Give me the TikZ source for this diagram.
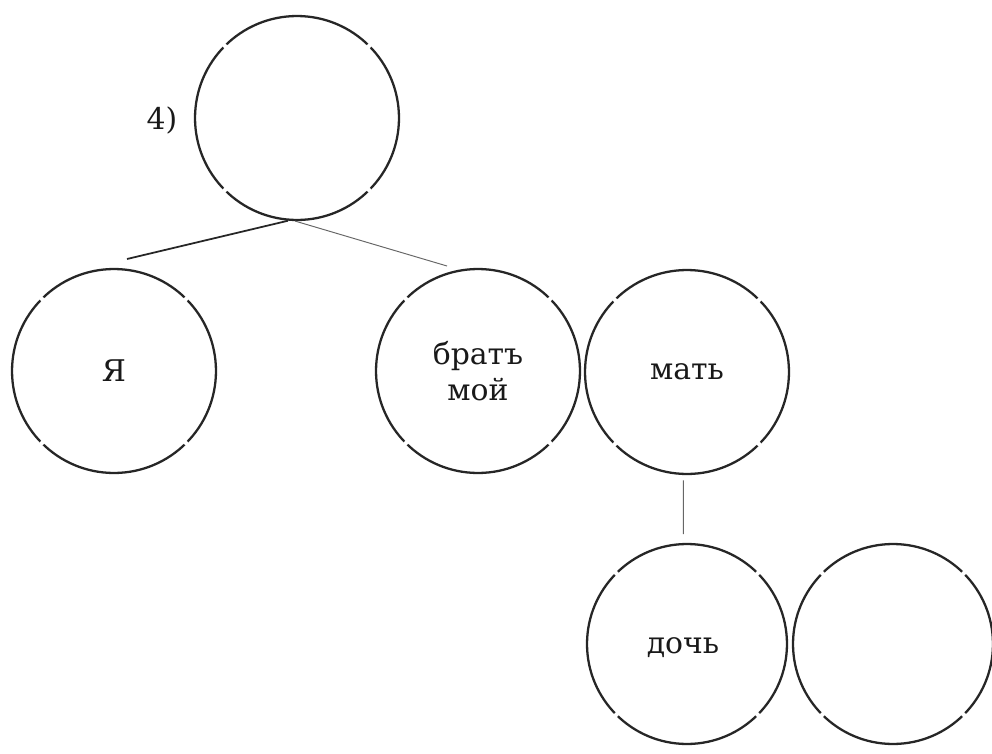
\documentclass[tikz,border=0pt]{standalone}
\usepackage{fontspec}
\setmainfont{DejaVu Serif}
\begin{document}
\begin{tikzpicture}[x=0.02cm,y=-0.02cm,
  txt/.style={font=\fontsize{17}{20.4}\selectfont, align=center, text=black!90},
  circA/.style={circle, draw=black!85, line width=1.3pt, inner sep=0pt,
    minimum size=4.08cm, dash pattern=on 88.67pt off 2.5pt, dash phase=44.34pt, txt},
  circB/.style={circA, minimum size=4cm, dash pattern=on 86.89pt off 2.5pt, dash phase=43.44pt},
  connA/.style={draw=black!85, line width=1pt},
  connB/.style={draw=black!60, line width=0.55pt}
]
\useasboundingbox (0,0) rectangle (992,754);
\node[circA] (top) at (297,118) {};
\node[txt] (lbl) at (162,120) {4)};
\node[circA] (ja) at (114,371) {Я};
\node[circA] (brat) at (478,371) {братъ\\мой};
\node[circA] (mat) at (687,372) {мать};
\node[circB] (doch) at (687,644) {};
\node[txt] (dochtxt) at (683,648) {дочь};
\node[circB] (empty) at (893,644) {};
\coordinate (lend) at (127,259);
\coordinate (rend) at (447,266);
\draw[connA] (top.-95) -- (lend);
\draw[connB] (top.-91) -- (rend);
\draw[connB, shorten <=3pt, shorten >=5pt] (mat.-92) -- (doch.92);
\end{tikzpicture}
\end{document}
